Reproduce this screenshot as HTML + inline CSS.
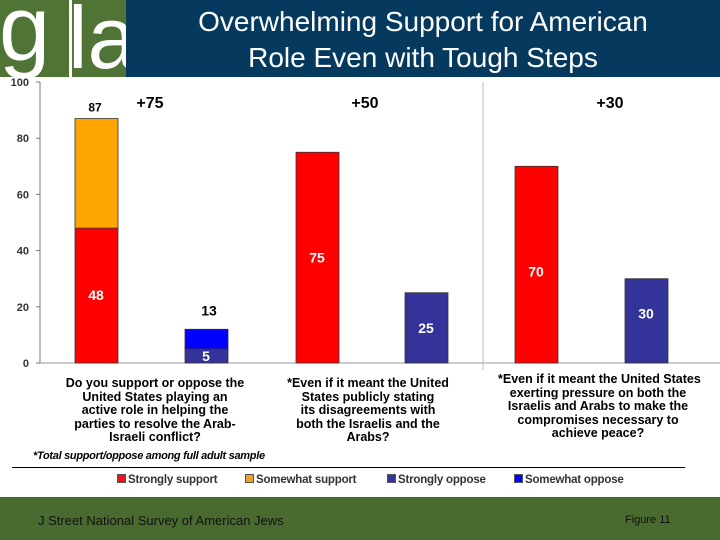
<!DOCTYPE html>
<html><head><meta charset="utf-8"><style>
body{margin:0;width:720px;height:540px;overflow:hidden;background:#fff;font-family:"Liberation Sans",Arial,sans-serif;position:relative}
.abs{position:absolute}
.q{position:absolute;font-weight:bold;font-size:12.5px;line-height:13.5px;text-align:center;color:#000;white-space:nowrap}
.lg{position:absolute;top:474px;font-size:11.5px;font-weight:bold;color:#333;white-space:nowrap;letter-spacing:-0.2px}
.lg i{display:inline-block;width:7px;height:7px;border:1px solid #555;margin-right:2px}
</style></head><body>
<div class="abs" style="left:0;top:0;width:720px;height:77px;background:#053a5e"></div>
<div class="abs" style="left:0;top:0;width:126px;height:77px;background:#fff">
 <div class="abs" style="left:0;top:0;width:69px;height:77px;background:#4f7436;overflow:hidden"><span class="abs" style="left:-1px;top:-17px;font-size:92px;color:#fff;line-height:92px">g</span></div>
 <div class="abs" style="left:72px;top:0;width:54px;height:77px;background:#4f7436;overflow:hidden"><span class="abs" style="left:-4px;top:-12px;font-size:88px;color:#fff;line-height:100px">la</span></div>
</div>
<div class="abs" style="left:126px;top:4px;width:594px;text-align:center;color:#fff;font-size:28px;line-height:36px">Overwhelming Support for American<br>Role Even with Tough Steps</div>

<svg class="abs" style="left:0;top:0" width="720" height="540" id="chart"></svg>

<div class="q" style="left:55px;top:377px;width:200px">Do you support or oppose the<br>United States playing an<br>active role in helping the<br>parties to resolve the Arab-<br>Israeli conflict?</div>
<div class="q" style="left:268px;top:377px;width:200px">*Even if it meant the United<br>States publicly stating<br>its disagreements with<br>both the Israelis and the<br>Arabs?</div>
<div class="q" style="left:498px;top:373px;width:200px">*Even if it meant the United States<br>exerting pressure on both the<br>Israelis and Arabs to make the<br>compromises necessary to<br>achieve peace?</div>
<div class="abs" style="left:33px;top:450px;font-size:11px;font-style:italic;font-weight:bold;letter-spacing:-0.3px">*Total support/oppose among full adult sample</div>
<div class="abs" style="left:12px;top:467px;width:673px;height:1px;background:#000"></div>
<div class="lg" style="left:117px"><i style="background:#e8141c"></i>Strongly support</div>
<div class="lg" style="left:245px"><i style="background:#f0a030"></i>Somewhat support</div>
<div class="lg" style="left:387px"><i style="background:#333399"></i>Strongly oppose</div>
<div class="lg" style="left:514px"><i style="background:#0000ff"></i>Somewhat oppose</div>
<div class="abs" style="left:0;top:497px;width:720px;height:43px;background:#4a6b30"></div>
<div class="abs" style="left:38px;top:513px;font-size:13px;color:#111">J Street National Survey of American Jews</div>
<div class="abs" style="left:625px;top:514px;font-size:11px;color:#111">Figure 11</div>

<script>
const yTicks=[0,20,40,60,80,100];
const stronglySupport=[48,75,70];
const somewhatSupport=[39,0,0];
const stronglyOppose=[5,25,30];
const somewhatOppose=[7,0,0];
const totalSupport=[87,75,70];
const totalOppose=[13,25,30];
const netLabels=["+75","+50","+30"];
const supportX=[75,296,515], opposeX=[185,405,625], netX=[150,365,610];
const svg=document.getElementById('chart');
const NS='http://www.w3.org/2000/svg';
const y=v=>363-v*2.81;
function mk(t,a){const e=document.createElementNS(NS,t);for(const k in a)e.setAttribute(k,a[k]);svg.appendChild(e);return e;}
let e=mk('line',{x1:40,y1:82,x2:40,y2:363,stroke:'#777'});


e=mk('line',{x1:40,y1:363,x2:720,y2:363,stroke:'#999'});


e=mk('line',{x1:483,y1:82,x2:483,y2:370,stroke:'#bbb'});


yTicks.forEach(t=>{
 mk('line',{x1:36,x2:40,y1:y(t),y2:y(t),stroke:'#777'});
 const tx=mk('text',{x:29,y:y(t)+4,'text-anchor':'end','font-size':11,'font-weight':'bold',fill:'#333'});tx.textContent=t;
 
 
});
function bar(x,v0,v1,fill,name){const r=mk('rect',{x:x,y:y(v1),width:43,height:y(v0)-y(v1),fill:fill,stroke:'#333','stroke-width':0.8});
 
 }
function lab(x,yy,t,c,n){const tx=mk('text',{x:x,y:yy,'text-anchor':'middle','font-size':14,'font-weight':'bold',fill:c});tx.textContent=t;
 
 }
for(let i=0;i<3;i++){
 bar(supportX[i],0,stronglySupport[i],'#ff0000','bar-strongly-support');
 if(somewhatSupport[i]>0){bar(supportX[i],stronglySupport[i],stronglySupport[i]+somewhatSupport[i],'#ffa500','bar-somewhat-support');
  lab(supportX[i]+21,y(stronglySupport[i])+72,stronglySupport[i],'#fff','value-label');
  const tl=mk('text',{x:supportX[i]+20,y:y(totalSupport[i])-7,'text-anchor':'middle','font-size':12,'font-weight':'bold'});tl.textContent=totalSupport[i];
  
  }
 else lab(supportX[i]+21,y(stronglySupport[i])+110,stronglySupport[i],'#fff','value-label');
 bar(opposeX[i],0,stronglyOppose[i],'#333399','bar-strongly-oppose');
 if(somewhatOppose[i]>0){bar(opposeX[i],stronglyOppose[i],stronglyOppose[i]+somewhatOppose[i],'#0000ff','bar-somewhat-oppose');
  lab(opposeX[i]+21,361,stronglyOppose[i],'#fff','value-label');
  lab(opposeX[i]+24,y(totalOppose[i])-11,totalOppose[i],'#000','total-label');}
 else lab(opposeX[i]+21,y(stronglyOppose[i])+40,stronglyOppose[i],'#fff','value-label');
 const n=mk('text',{x:netX[i],y:108,'text-anchor':'middle','font-size':16,'font-weight':'bold'});n.textContent=netLabels[i];
 
 
}
</script>
</body></html>
